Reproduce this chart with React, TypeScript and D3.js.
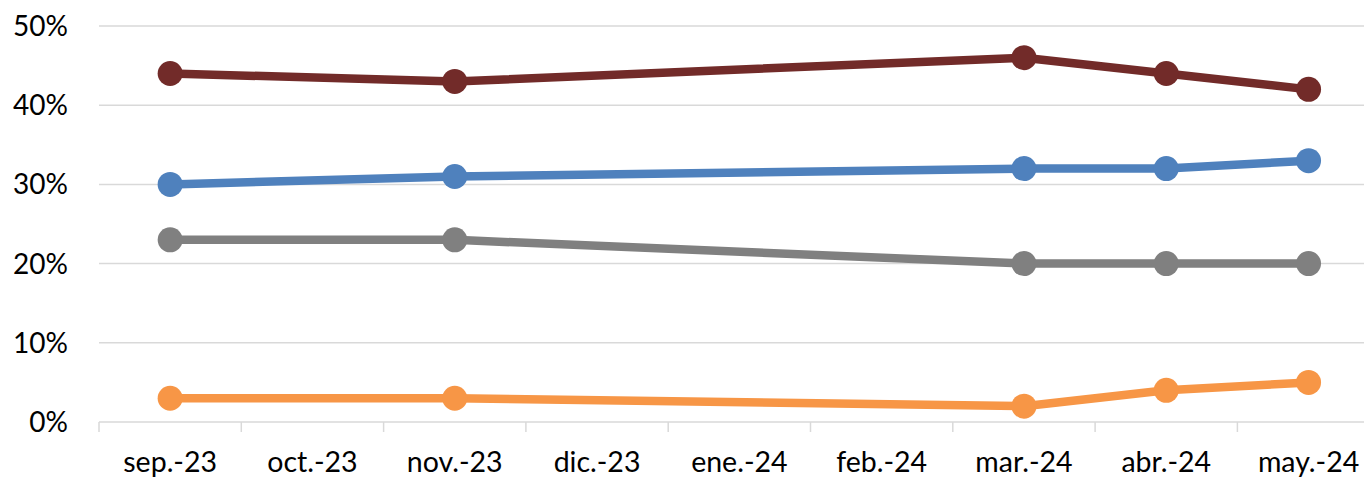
import React from "react";
import * as d3 from "d3";

const categories = ["sep.-23", "oct.-23", "nov.-23", "dic.-23", "ene.-24", "feb.-24", "mar.-24", "abr.-24", "may.-24"];
const pointCategories = ["sep.-23", "nov.-23", "mar.-24", "abr.-24", "may.-24"];
const darkRedValues = [44, 43, 46, 44, 42];
const blueValues = [30, 31, 32, 32, 33];
const grayValues = [23, 23, 20, 20, 20];
const orangeValues = [3, 3, 2, 4, 5];
const yTicks = [0, 10, 20, 30, 40, 50];

const series = [
  { name: "darkred", values: darkRedValues, color: "#722B29" },
  { name: "blue", values: blueValues, color: "#4F81BD" },
  { name: "gray", values: grayValues, color: "#808080" },
  { name: "orange", values: orangeValues, color: "#F79646" },
];

export default function App() {
  const W = 1364, H = 480;
  const x = d3.scaleBand<string>().domain(categories).range([99, 1379.7]);
  const y = d3.scaleLinear().domain([0, 50]).range([422, 26]);
  const cx = (c: string) => (x(c) as number) + x.bandwidth() / 2;
  const line = d3
    .line<number>()
    .x((_, i) => cx(pointCategories[i]))
    .y((v) => y(v));
  const font = "Lato, 'Noto Sans', sans-serif";
  return (
    <svg width={W} height={H} style={{ position: "absolute", left: 0, top: 0, background: "#fff" }}>
      {yTicks.map((t) => (
        <g key={t}>
          <line x1={99} x2={1380} y1={y(t)} y2={y(t)} stroke="#d9d9d9" strokeWidth={1.5} />
          <text x={68} y={y(t)} dy="0.36em" textAnchor="end" fontFamily={font} fontSize={28} fill="#000">
            {t}%
          </text>
        </g>
      ))}
      {categories.map((c, i) => (
        <line key={"tk" + i} x1={x(c)} x2={x(c)} y1={422} y2={432} stroke="#d9d9d9" strokeWidth={1.5} />
      ))}
      {categories.map((c) => (
        <text key={"lb" + c} x={cx(c)} y={472} textAnchor="middle" fontFamily={font} fontSize={28.5} fill="#000">
          {c}
        </text>
      ))}
      {series.map((s) => (
        <g key={s.name}>
          <path d={line(s.values) || ""} fill="none" stroke={s.color} strokeWidth={8.5} strokeLinejoin="round" />
          {s.values.map((v, i) => (
            <circle key={i} cx={cx(pointCategories[i])} cy={y(v)} r={12.5} fill={s.color} />
          ))}
        </g>
      ))}
    </svg>
  );
}
